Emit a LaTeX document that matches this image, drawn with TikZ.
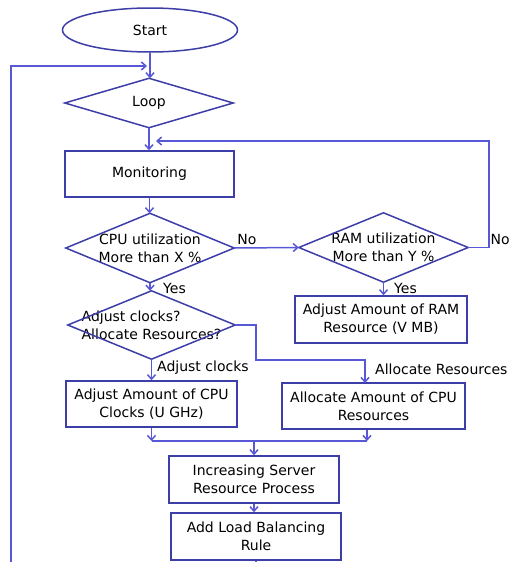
\documentclass[tikz,border=0pt]{standalone}
\usepackage{fontspec}
\setmainfont{DejaVu Sans}
\usetikzlibrary{shapes.geometric,arrows.meta,calc}
\definecolor{boxline}{RGB}{62,62,168}
\definecolor{flowline}{RGB}{88,88,214}
\tikzset{
  base/.style={font=\fontsize{14}{18}\selectfont, inner sep=0pt, text=black},
  procbox/.style={base, draw=boxline, line width=1.5pt, rectangle, align=center},
  termbox/.style={base, draw=boxline, line width=1.5pt, ellipse},
  decbox/.style={base, rectangle, align=center},
  decedge/.style={draw=boxline, line width=1.5pt, line join=miter},
  flow/.style={draw=flowline, line width=1.5pt},
  arr/.style={flow, -{Straight Barb[length=4.5pt,width=8pt]}},
  lbl/.style={base, inner sep=0pt},
}
\newcommand{\decdraw}[1]{\draw[decedge] (#1.north) -- (#1.east) -- (#1.south) -- (#1.west) -- cycle;}
\begin{document}
\begin{tikzpicture}[x=1pt,y=-1pt]
\clip (0,0) rectangle (510,562);
\fill[white] (0,0) rectangle (510,562);

% terminal
\node[termbox, minimum width=175, minimum height=44] (start) at (150,30) {Start};

% decisions (text nodes, outlines drawn as diamonds)
\node[decbox, minimum width=168, minimum height=49] (loop) at (149,103) {Loop};
\node[decbox, minimum width=168, minimum height=69] (cpu) at (150,248) {CPU utilization\\More than X \%};
\node[decbox, minimum width=169, minimum height=69] (ram) at (383.5,247.5) {RAM utilization\\More than Y \%};
\node[decbox, minimum width=167, minimum height=68, align=left] (adj) at (151.5,325) {Adjust clocks?\\Allocate Resources?};
\decdraw{loop}
\decdraw{cpu}
\decdraw{ram}
\decdraw{adj}

% process boxes
\node[procbox, minimum width=169, minimum height=46] (mon) at (149.5,174) {Monitoring};
\node[procbox, minimum width=172, minimum height=47] (rambox) at (381,319.5) {Adjust Amount of RAM\\Resource (V MB)};
\node[procbox, minimum width=171, minimum height=46] (cpubox) at (151.5,404) {Adjust Amount of CPU\\Clocks (U GHz)};
\node[procbox, minimum width=183, minimum height=46] (alloc) at (373.5,406) {Allocate Amount of CPU\\Resources};
\node[procbox, minimum width=170, minimum height=47] (inc) at (254,479.5) {Increasing Server\\Resource Process};
\node[procbox, minimum width=170, minimum height=47] (lb) at (256,536.5) {Add Load Balancing\\Rule};

% junction points
\coordinate (loopin) at (147,66);
\coordinate (monin) at (156,141);
\coordinate (mL) at (151.5,441);
\coordinate (mR) at (367,441);

% main flow
\draw[arr] (start.south) -- (start.south |- loop.north);
\draw[arr] (loop.south) -- (loop.south |- mon.north);
\draw[arr] (mon.south) -- (mon.south |- cpu.north);
\draw[arr] (cpu.east) -- (ram.west);
\node[lbl, anchor=south west] (no1) at ($(cpu.east)+(3,-3)$) {No};
\draw[arr] (ram.east) -- (489,247.5) |- (monin);
\node[lbl, anchor=south west] (no2) at (490.5,244.5) {No};
\draw[arr] (ram.south) -- (ram.south |- rambox.north);
\node[lbl, anchor=west] (yes2) at (394,288) {Yes};
\draw[arr] (cpu.south) -- (cpu.south |- adj.north);
\node[lbl, anchor=west] (yes1) at (163,288) {Yes};
\draw[arr] (adj.south) -- (adj.south |- cpubox.north);
\node[lbl, anchor=west] (lac) at (157,368) {Adjust clocks};
\draw[arr] (adj.east) -- (256,325) -- (256,360) -- (365,360) -- (365,383);
\node[lbl, anchor=west] (lal) at (375,369) {Allocate Resources};

% merge
\draw[arr] (cpubox.south) -- (mL);
\draw[arr] (mR |- alloc.south) -- (mR);
\draw[flow] (mL) -- (mR);
\draw[arr] (inc.north |- mL) -- (inc.north);
\draw[arr] (inc.south) -- (inc.south |- lb.north);

% return loop
\draw[arr] (lb.south) -- (256,580) -- (11,580) |- (loopin);
\end{tikzpicture}
\end{document}
